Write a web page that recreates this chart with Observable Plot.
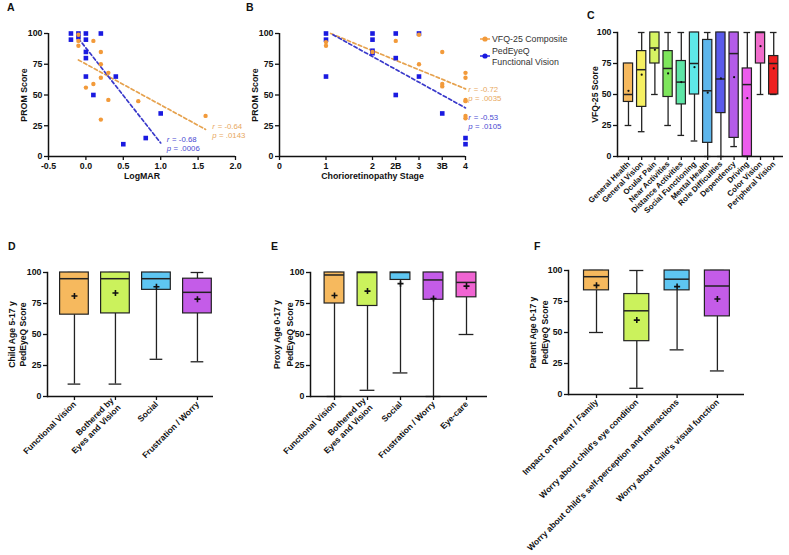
<!DOCTYPE html>
<html><head><meta charset="utf-8">
<script src="https://cdn.jsdelivr.net/npm/d3@7"></script>
<script src="https://cdn.jsdelivr.net/npm/@observablehq/plot@0.6"></script>
<style>
body{margin:0;background:#fff;font-family:"Liberation Sans",Arial,Helvetica,sans-serif;}
#fig{position:relative;width:789px;height:555px;overflow:hidden;background:#fff;}
.panel{position:absolute;}
.plab{position:absolute;font-weight:bold;font-size:10.5px;color:#111;line-height:12px;}
.leg{position:absolute;font-size:8.8px;color:#333;line-height:10px;white-space:nowrap;}
</style></head><body><div id="fig"></div>
<script>
// ---------------- DATA ----------------
const yTicks = [0, 25, 50, 75, 100];

// Panel A: LogMAR vs PROM score
const aXTicks = [-0.5, 0, 0.5, 1.0, 1.5, 2.0];
const aBlueX = [-0.2, -0.2, -0.1, -0.1, 0, 0, 0.2, 0, 0, 0, 0.1, 0.4, 1.0, 0.8, 0.5];
const aBlueY = [100, 95, 100, 97, 100, 95, 100, 85, 80, 65, 50, 65, 35, 15, 10];
const aOrangeX = [-0.1, -0.1, -0.1, 0.1, 0.2, 0.2, 0.3, 0.2, 0.1, 0, 0.3, 0.7, 0.2, 1.6];
const aOrangeY = [99, 94, 90, 94, 85, 75, 68, 64, 59, 56, 46, 45, 30, 33];
const aFitOrangeX = [-0.1, 1.6], aFitOrangeY = [78.5, 22];
const aFitBlueX = [-0.1, 1.0], aFitBlueY = [96, 11];
const aNoteX = [1.69, 1.69, 1.08, 1.08];
const aNoteY = [24.6, 17.3, 14, 6.7];
const aNoteSym = ["r", "p", "r", "p"];
const aNoteVal = ["= -0.64", "= .0143", "= -0.68", "= .0006"];
const aNoteSeries = ["VFQ-25 Composite", "VFQ-25 Composite", "PedEyeQ Functional Vision", "PedEyeQ Functional Vision"];

// Panel B: chorioretinopathy stage vs PROM score
const bXTicks = [0, 1, 2, 2.5, 3, 3.5, 4];
const bXTickLabels = ["0", "1", "2", "2B", "3", "3B", "4"];
const bBlueX = [1, 1, 1, 2, 2, 2, 2, 2.5, 2.5, 2.5, 3, 3, 3.5, 4, 4];
const bBlueY = [100, 95, 65, 100, 95, 86, 84, 100, 80, 50, 100, 65, 35, 15, 10];
const bOrangeX = [1, 1, 2, 2.5, 3, 3, 3.5, 3.5, 3.5, 4, 4, 4, 4, 4, 4];
const bOrangeY = [93, 90, 85, 94, 99, 75, 85, 59, 57, 68, 64, 46, 45, 33, 31];
const bFitOrangeX = [1.1, 4], bFitOrangeY = [100, 55];
const bFitBlueX = [1.15, 4], bFitBlueY = [99, 39.5];
const bNoteX = [4.06, 4.06, 4.06, 4.06];
const bNoteY = [54.6, 47.3, 32, 24.7];
const bNoteSym = ["r", "p", "r", "p"];
const bNoteVal = ["= -0.72", "= .0035", "= -0.53", "= .0105"];
const bNoteSeries = aNoteSeries;
const seriesNames = ["VFQ-25 Composite", "PedEyeQ Functional Vision"];

// Panel C: VFQ-25 subscales
const cCats = ["General Health","General Vision","Ocular Pain","Near Activities","Distance Activities","Social Functioning","Mental Health","Role Difficulties","Dependency","Driving","Color Vision","Peripheral Vision"];
const cMin  = [25, 20, 50, 25, 17, 12.5, 0, 0, 8, 0, 50, 50];
const cQ1   = [44, 40, 75, 48, 42, 50, 11, 35, 15, 0, 75, 50];
const cMed  = [50, 70, 87.5, 71, 60, 75, 53, 62.5, 83, 58, 100, 75];
const cQ3   = [75, 85, 100, 85, 77, 100, 94, 100, 100, 71, 100, 81];
const cMax  = [75, 100, 100, 100, 100, 100, 100, 100, 100, 100, 100, 100];
const cMean = [53, 66, 86, 67, 60, 72, 51.5, 63, 64, 47, 89, 71];
const cColors = ["#F6B95E","#F6F062","#D6F463","#7EE65C","#5EE6A6","#5EE8E8","#5EB6EC","#5A5AEA","#B45CE8","#EC5CEC","#F06CCB","#EE2020"];

// Panel D: Child age 5-17 y
const dCats = ["Functional Vision", "Bothered by\nEyes and Vision", "Social", "Frustration / Worry"];
const dMin  = [10, 10, 30, 28];
const dQ1   = [66, 67, 86, 67];
const dMed  = [95, 95, 95, 84];
const dQ3   = [100, 100, 100, 95];
const dMax  = [100, 100, 100, 100];
const dMean = [81, 83.5, 88.5, 78.5];
const dColors = ["#F6B95E", "#CBF25C", "#5EC6F2", "#C45CE8"];

// Panel E: Proxy age 0-17 y
const eCats = ["Functional Vision", "Bothered by\nEyes and Vision", "Social", "Frustration / Worry", "Eye-care"];
const eMin  = [0, 5, 19, 0, 50];
const eQ1   = [75, 73, 94, 78, 80];
const eMed  = [98, 100, 100, 94, 92];
const eQ3   = [100, 100, 100, 100, 100];
const eMax  = [100, 100, 100, 100, 100];
const eMean = [81.5, 85, 91, 79, 89];
const eColors = ["#F6B95E", "#CBF25C", "#5EC6F2", "#C45CE8", "#F064D2"];

// Panel F: Parent age 0-17 y
const fCats = ["Impact on Parent / Family", "Worry about child's eye condition", "Worry about child's self-perception and interactions", "Worry about child's visual function"];
const fMin  = [50, 5, 36, 19];
const fQ1   = [84, 43, 84, 63];
const fMed  = [95, 67.5, 93, 87.5];
const fQ3   = [100, 81, 100, 100];
const fMax  = [100, 100, 100, 100];
const fMean = [88, 60, 87, 77];
const fColors = ["#F6B95E", "#CBF25C", "#5EC6F2", "#C45CE8"];

// ---------------- STYLE ----------------
const FONT = '"Liberation Sans", Arial, Helvetica, sans-serif';
const seriesColor = {"VFQ-25 Composite": "#F29A3A", "PedEyeQ Functional Vision": "#1A1AE0"};
const lineColor = {"VFQ-25 Composite": "#E6A24E", "PedEyeQ Functional Vision": "#3A3ACB"};
const noteColor = {"VFQ-25 Composite": "#E8A85E", "PedEyeQ Functional Vision": "#4A4AD2"};
const fig = document.getElementById("fig");
function baseStyle(){ return {background:"transparent", fontFamily:FONT, fontSize:"8.8px", fontWeight:"bold", color:"#111", overflow:"visible"}; }
function place(node, left, top){ const d = document.createElement("div"); d.className = "panel"; d.style.left = left + "px"; d.style.top = top + "px"; d.appendChild(node); fig.appendChild(d); }
function pts(xs, ys){ return xs.map((x, i) => ({x, y: ys[i]})); }
function notes(xs, ys, syms, vals, ser){ return xs.map((x, i) => ({x, y: ys[i], sym: syms[i], val: vals[i], c: noteColor[ser[i]]})); }

function scatterPanel(cfg){
  const nt = notes(cfg.noteX, cfg.noteY, cfg.noteSym, cfg.noteVal, cfg.noteSeries);
  const txt = {x:"x", y:"y", fill:"c", textAnchor:"start", fontWeight:"normal", fontSize:7.8};
  return Plot.plot({
    width: cfg.width, height: 200, marginLeft: cfg.marginLeft, marginRight: cfg.marginRight, marginTop: 33, marginBottom: 44,
    style: baseStyle(),
    x: {domain: cfg.xDomain}, y: {domain: [0, 100]}, color: {type: "identity"},
    marks: [
      Plot.line(pts(cfg.fitOX, cfg.fitOY), {x:"x", y:"y", stroke: lineColor[seriesNames[0]], strokeWidth:1.7, strokeDasharray:"3.5,2.5"}),
      Plot.line(pts(cfg.fitBX, cfg.fitBY), {x:"x", y:"y", stroke: lineColor[seriesNames[1]], strokeWidth:1.7, strokeDasharray:"3.5,2.5"}),
      Plot.dot(pts(cfg.blueX, cfg.blueY), {x:"x", y:"y", symbol:"square", r:2.6, fill: seriesColor[seriesNames[1]]}),
      Plot.dot(pts(cfg.orangeX, cfg.orangeY), {x:"x", y:"y", r:2.2, fill: seriesColor[seriesNames[0]]}),
      Plot.text(nt, {...txt, text:"sym", fontStyle:"italic"}),
      Plot.text(nt.filter(d => d.sym === "r"), {...txt, text:"val", dx:5.4}),
      Plot.text(nt.filter(d => d.sym === "p"), {...txt, text:"val", dx:6.8}),
      Plot.ruleY([0], {strokeWidth:1.5, stroke:"#111"}),
      Plot.ruleX([cfg.xDomain[0]], {strokeWidth:1.5, stroke:"#111"}),
      Plot.axisX(cfg.xTicks, {tickSize:4, tickPadding:2, strokeWidth:1.3, tickFormat: cfg.tickFormat, label:null, fontSize:8.8}),
      Plot.axisY(yTicks, {tickSize:4, tickPadding:2, strokeWidth:1.3, label:null, fontSize:8.8}),
      Plot.text([cfg.xTitle], {frameAnchor:"bottom", dy:22, text:d => d, fontSize:8.8, textAnchor:"middle"}),
      Plot.text(["PROM Score"], {frameAnchor:"left", rotate:-90, dx:-24, text:d => d, fontSize:8.8, textAnchor:"middle"})
    ]
  });
}

function boxPanel(cfg){
  const rows = cfg.cats.map((c, i) => ({cat:c, min:cfg.min[i], q1:cfg.q1[i], med:cfg.med[i], q3:cfg.q3[i], max:cfg.max[i], mean:cfg.mean[i], color:cfg.colors[i]}));
  const meanMark = cfg.meanDot
    ? Plot.dot(rows, {x:"cat", y:"mean", r:1.1, fill:"#111"})
    : Plot.dot(rows, {x:"cat", y:"mean", symbol:"plus", r:2.1, stroke:"#111", strokeWidth:1.6});
  const titleMarks = cfg.title.map((t, i) => Plot.text([t], {frameAnchor:"left", rotate:-90, dx:cfg.titleDx[i], text:d => d, fontSize:8.6, textAnchor:"middle"}));
  return Plot.plot({
    width: cfg.width, height: cfg.height, marginLeft: cfg.mL, marginRight: cfg.mR, marginTop: cfg.mT, marginBottom: cfg.mB,
    style: baseStyle(),
    x: {type:"band", domain: cfg.cats, range: cfg.range, padding: cfg.padding, round:false},
    y: {domain: [0, 100]},
    color: {type: "identity"},
    marks: [
      Plot.ruleX(rows, {x:"cat", y1:"min", y2:"q1", strokeWidth:1.3, stroke:"#222"}),
      Plot.ruleX(rows, {x:"cat", y1:"q3", y2:"max", strokeWidth:1.3, stroke:"#222"}),
      Plot.tickY(rows, {x:"cat", y:"min", insetLeft:cfg.cap, insetRight:cfg.cap, strokeWidth:1.3, stroke:"#222"}),
      Plot.tickY(rows, {x:"cat", y:"max", insetLeft:cfg.cap, insetRight:cfg.cap, strokeWidth:1.3, stroke:"#222"}),
      Plot.barY(rows, {x:"cat", y1:"q1", y2:"q3", fill:"color", stroke:"#222", strokeWidth:1.2}),
      Plot.tickY(rows, {x:"cat", y:"med", strokeWidth:1.5, stroke:"#222"}),
      meanMark,
      Plot.ruleY([0], {strokeWidth:1.5, stroke:"#111"}),
      Plot.frame({anchor:"left", strokeWidth:1.5, stroke:"#111"}),
      Plot.axisY(yTicks, {tickSize:4, tickPadding:2, strokeWidth:1.3, label:null, fontSize:8.8}),
      Plot.axisX({tickSize:4, tickPadding:2, tickRotate:-45, strokeWidth:1.3, label:null, fontSize:cfg.tickFont, lineHeight:1.15}),
      ...titleMarks
    ]
  });
}

// ---------------- PANELS ----------------
place(scatterPanel({width:250, marginLeft:48, marginRight:15, xDomain:[-0.5, 2.0], xTicks:aXTicks, tickFormat:d => d.toFixed(1), xTitle:"LogMAR",
  blueX:aBlueX, blueY:aBlueY, orangeX:aOrangeX, orangeY:aOrangeY, fitOX:aFitOrangeX, fitOY:aFitOrangeY, fitBX:aFitBlueX, fitBY:aFitBlueY,
  noteX:aNoteX, noteY:aNoteY, noteSym:aNoteSym, noteVal:aNoteVal, noteSeries:aNoteSeries}), 0, 0);

place(scatterPanel({width:290, marginLeft:49, marginRight:55, xDomain:[0, 4], xTicks:bXTicks, tickFormat:d => bXTickLabels[bXTicks.indexOf(d)], xTitle:"Chorioretinopathy Stage",
  blueX:bBlueX, blueY:bBlueY, orangeX:bOrangeX, orangeY:bOrangeY, fitOX:bFitOrangeX, fitOY:bFitOrangeY, fitBX:bFitBlueX, fitBY:bFitBlueY,
  noteX:bNoteX, noteY:bNoteY, noteSym:bNoteSym, noteVal:bNoteVal, noteSeries:bNoteSeries}), 230, 0);

place(boxPanel({cats:cCats, min:cMin, q1:cQ1, med:cMed, q3:cQ3, max:cMax, mean:cMean, colors:cColors,
  width:229, height:250, mL:57, mR:6, mT:32, mB:94, range:[59.4, 221.8], padding:0.3, cap:1.3, meanDot:true,
  tickFont:7.8, title:["VFQ-25 Score"], titleDx:[-22]}), 560, 0);

place(boxPanel({cats:dCats, min:dMin, q1:dQ1, med:dMed, q3:dQ3, max:dMax, mean:dMean, colors:dColors,
  width:265, height:315, mL:47, mR:52, mT:32, mB:159, range:[47.3, 223.6], padding:0.3, cap:8,
  tickFont:8.5, title:["Child Age 5-17 y", "PedEyeQ Score"], titleDx:[-35, -24]}), 0, 240);

place(boxPanel({cats:eCats, min:eMin, q1:eQ1, med:eMed, q3:eQ3, max:eMax, mean:eMean, colors:eColors,
  width:265, height:315, mL:45, mR:43, mT:32, mB:159, range:[45.9, 224.1], padding:0.4, cap:2.5,
  tickFont:8.5, title:["Proxy Age 0-17 y", "PedEyeQ Score"], titleDx:[-33, -20.5]}), 265, 240);

place(boxPanel({cats:fCats, min:fMin, q1:fQ1, med:fMed, q3:fQ3, max:fMax, mean:fMean, colors:fColors,
  width:264, height:315, mL:43, mR:45, mT:30, mB:161, range:[43.2, 219.7], padding:0.38, cap:5.5,
  tickFont:8.5, title:["Parent Age 0-17 y", "PedEyeQ Score"], titleDx:[-35, -23.5]}), 525, 240);

// ---------------- LEGEND (panel B) ----------------
function legendMarker(color, cx, cy){
  const ns = "http://www.w3.org/2000/svg";
  const s = document.createElementNS(ns, "svg");
  s.setAttribute("width", 12); s.setAttribute("height", 8);
  s.style.position = "absolute"; s.style.left = (cx - 6) + "px"; s.style.top = (cy - 4) + "px";
  const l = document.createElementNS(ns, "line");
  l.setAttribute("x1", 1); l.setAttribute("x2", 11); l.setAttribute("y1", 4); l.setAttribute("y2", 4);
  l.setAttribute("stroke", color); l.setAttribute("stroke-width", 1.4);
  const c = document.createElementNS(ns, "circle");
  c.setAttribute("cx", 6); c.setAttribute("cy", 4); c.setAttribute("r", 2.6); c.setAttribute("fill", color);
  s.appendChild(l); s.appendChild(c); fig.appendChild(s);
}
function legendText(t, left, cy){ const d = document.createElement("div"); d.className = "leg"; d.textContent = t; d.style.left = left + "px"; d.style.top = (cy - 5) + "px"; fig.appendChild(d); }
legendMarker(seriesColor[seriesNames[0]], 485, 38.5);
legendText("VFQ-25 Composite", 492, 38.5);
legendMarker(seriesColor[seriesNames[1]], 485, 56);
legendText("PedEyeQ", 492, 50.5);
legendText("Functional Vision", 492, 61.5);

// ---------------- PANEL LETTERS ----------------
[["A", 7, 1], ["B", 246, 1], ["C", 587, 9], ["D", 8, 240], ["E", 271, 240], ["F", 534, 240]].forEach(([t, l, tp]) => {
  const d = document.createElement("div"); d.className = "plab"; d.textContent = t; d.style.left = l + "px"; d.style.top = tp + "px"; fig.appendChild(d);
});
</script></body></html>
